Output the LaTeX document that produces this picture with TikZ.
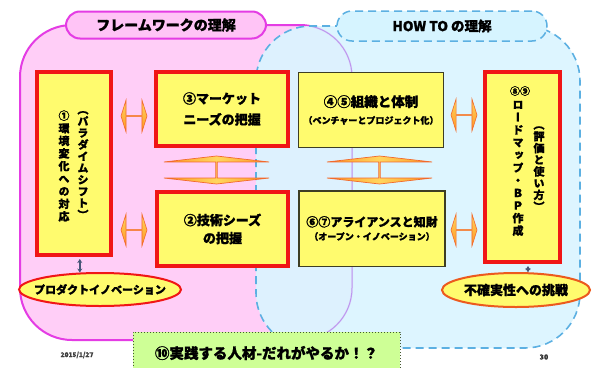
\documentclass[tikz,border=0pt]{standalone}
\usepackage{fontspec}
\newfontfamily\jp{Noto Sans CJK JP}[BoldFeatures={FakeBold=1.2}]
\newfontfamily\jpv{Noto Sans CJK JP}[RawFeature=+vert,BoldFeatures={FakeBold=1.2}]
\usetikzlibrary{shapes.geometric,shapes.arrows,arrows.meta}
\definecolor{pinkfill}{RGB}{255,206,247}
\definecolor{pinkedge}{RGB}{228,60,228}
\definecolor{pinkinner}{RGB}{190,150,238}
\definecolor{pinkpill}{RGB}{255,196,246}
\definecolor{bluefill}{RGB}{218,245,255}
\definecolor{blueedge}{RGB}{92,176,226}
\definecolor{bluepill}{RGB}{214,244,255}
\definecolor{boxyellow}{RGB}{255,251,110}
\definecolor{boxred}{RGB}{240,22,22}
\definecolor{boxolive}{RGB}{62,62,36}
\definecolor{ellorange}{RGB}{236,90,30}
\definecolor{arrowlight}{RGB}{255,214,95}
\definecolor{arroworange}{RGB}{255,150,35}
\definecolor{arrowedge}{RGB}{242,105,45}
\definecolor{greenfill}{RGB}{206,255,150}
\definecolor{greenedge}{RGB}{70,90,50}
\definecolor{connblue}{RGB}{70,86,120}
\begin{document}
\begin{tikzpicture}[x=1pt,y=-1pt,
  redbox/.style={draw=boxred,line width=4pt,fill=boxyellow,inner sep=0pt,align=center,text=black},
  olivebox/.style={draw=boxolive,line width=1.5pt,fill=boxyellow,inner sep=0pt,align=center,text=black},
  vcol/.style={inner sep=0pt,align=center,text=black},
  lrarrow/.style={double arrow,double arrow head extend=8pt,double arrow tip angle=145,
    minimum height=26pt,minimum width=32pt,inner sep=0pt,draw=arrowedge,line width=0.6pt,
    top color=arrowlight,bottom color=arroworange},
  udarrow/.style={double arrow,rotate=90,double arrow head extend=27pt,double arrow tip angle=167,
    minimum height=28pt,minimum width=105pt,inner sep=0pt,draw=arrowedge,line width=0.7pt,
    left color=arroworange,right color=arroworange,middle color=arrowlight},
  ell/.style={ellipse,fill=boxyellow,inner sep=0pt,text=black,font=\jp\bfseries},
  conn/.style={connblue,line width=1.6pt,{Stealth[length=4pt,width=5pt]}-{Stealth[length=4pt,width=5pt]},shorten <=2pt}
]
\useasboundingbox (0,0) rectangle (596,367);
\clip (0,0) rectangle (596,367);
\fill[white] (0,0) rectangle (596,367);
% regions
\path[fill=pinkfill,draw=pinkedge,line width=2pt,rounded corners=52pt] (20,25) rectangle (352,340);
\fill[bluefill,opacity=0.9,rounded corners=55pt] (256,26) rectangle (580,348);
\begin{scope}
  \clip[rounded corners=55pt] (256,26) rectangle (580,348);
  \draw[pinkinner,line width=1pt,rounded corners=52pt] (20,25) rectangle (352,340);
\end{scope}
\draw[blueedge,line width=1.6pt,dash pattern=on 8pt off 5pt,rounded corners=55pt] (256,26) rectangle (580,348);
% titles
\node[draw=pinkedge,line width=2pt,fill=pinkpill,rounded corners=14pt,minimum width=200pt,minimum height=27pt,inner sep=0pt,
  font=\jp\bfseries\fontsize{14}{16}\selectfont] (t1) at (166,25) {フレームワークの理解};
\node[draw=blueedge,line width=1.5pt,dash pattern=on 8pt off 5pt,fill=bluepill,rounded corners=15pt,minimum width=210pt,minimum height=30pt,inner sep=0pt,
  font=\jp\bfseries\fontsize{13.5}{16}\selectfont] (t2) at (442,26) {HOW TO の理解};
% boxes
\node[redbox,minimum width=74pt,minimum height=183pt] (lbox) at (74,163.5) {};
\node[vcol,font=\jpv\bfseries\fontsize{11}{11.7}\selectfont] (lc1) at (83,165)
  {（\\パ\\ラ\\ダ\\イ\\ム\\シ\\フ\\ト\\）};
\node[vcol,font=\jpv\bfseries\fontsize{11}{12.6}\selectfont] (lc2) at (64,166)
  {①\\環\\境\\変\\化\\へ\\の\\対\\応};
\node[redbox,minimum width=132pt,minimum height=74pt,font=\jp\bfseries\fontsize{13}{21}\selectfont] (b3) at (222,109)
  {③マーケット\\ニーズの把握};
\node[redbox,minimum width=131pt,minimum height=74pt,font=\jp\bfseries\fontsize{13}{18}\selectfont] (b2) at (222.5,229)
  {②技術シーズ\\の把握};
\node[olivebox,minimum width=145pt,minimum height=75pt,font=\jp\bfseries\fontsize{13.5}{17}\selectfont] (b45) at (371,110)
  {④⑤組織と体制\\{\fontsize{9}{11}\selectfont （ベンチャーとプロジェクト化）}};
\node[olivebox,minimum width=146pt,minimum height=75.5pt,font=\jp\bfseries\fontsize{12}{13.5}\selectfont] (b67) at (372,228.5)
  {⑥⑦アライアンスと知財\\{\fontsize{9}{11}\selectfont （オープン・イノベーション）}};
\node[redbox,minimum width=75pt,minimum height=190pt] (rbox) at (522.5,167) {};
\node[vcol,font=\jp\bfseries\fontsize{10}{12}\selectfont] (rhead) at (520,91) {⑧⑨};
\node[vcol,font=\jpv\bfseries\fontsize{11}{12.6}\selectfont] (rc1) at (518,168.5)
  {ロ\\ー\\ド\\マ\\ッ\\プ\\・\\Ｂ\\Ｐ\\作\\成};
\node[vcol,font=\jpv\bfseries\fontsize{11}{11.7}\selectfont] (rc2) at (539,168.5)
  {（\\評\\価\\と\\使\\い\\方\\）};
% arrows
\node[lrarrow] (al1) at (134,116) {};
\node[lrarrow] (al2) at (134,230) {};
\node[lrarrow] (ar1) at (464,115) {};
\node[lrarrow] (ar2) at (464,230) {};
\node[udarrow] (ac1) at (216.5,170) {};
\node[udarrow] (ac2) at (379.5,170) {};
% ellipses
\node[ell,draw=boxred,line width=2pt,minimum width=162pt,minimum height=33pt,font=\jp\bfseries\fontsize{11}{13}\selectfont] (lell) at (100,289.5)
  {\makebox[0pt]{プロダクトイノベーション}};
\node[ell,draw=ellorange,line width=2pt,minimum width=148pt,minimum height=34pt,font=\jp\bfseries\fontsize{13}{15}\selectfont] (rell) at (516,290)
  {\makebox[0pt]{不確実性への挑戦}};
\draw[conn] (lbox.south -| lell.140) -- (lell.140);
\draw[conn] (rbox.south -| rell.56) -- (rell.56);
% bottom
\node[draw=greenedge,dotted,line width=1pt,fill=greenfill,minimum width=267pt,minimum height=42pt,inner sep=0pt,
  font=\jp\bfseries\fontsize{14.5}{16}\selectfont] (b10) at (266.5,353) {⑩実践する人材-だれがやるか！？};
\node[font=\jp\bfseries\fontsize{6.5}{8}\selectfont,text=black!75,inner sep=0pt] (date) at (77,355) {2015/1/27};
\node[font=\jp\bfseries\fontsize{7}{8}\selectfont,text=black!80,inner sep=0pt] (page) at (544,357) {30};
\end{tikzpicture}
\end{document}
